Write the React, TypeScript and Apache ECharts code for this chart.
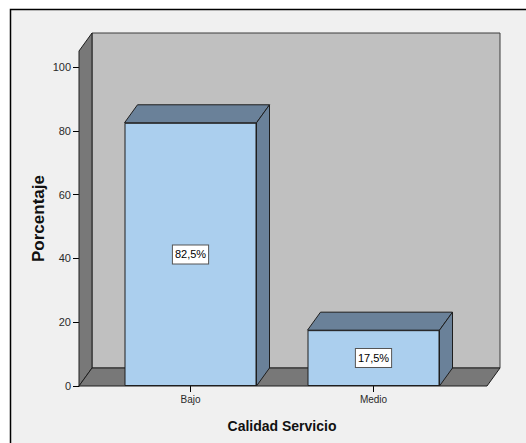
import React, { useEffect, useRef } from 'react';
import * as echarts from 'echarts';

const categories = ['Bajo', 'Medio'];
const percentages = [82.5, 17.5];
const yTickValues = [0, 20, 40, 60, 80, 100];
const axisMax = 105;

export default function App() {
  const ref = useRef<HTMLDivElement>(null);
  useEffect(() => {
    const chart = echarts.init(ref.current as HTMLDivElement, null, { renderer: 'svg' });
    const DX = 13;
    const DY = 18;
    const HALF = 66;
    const font = "'Liberation Sans', Arial, sans-serif";
    const edge = '#1e1e1e';

    const renderWalls = (params: any, api: any) => {
      const cs = params.coordSys;
      const top = api.coord([0, axisMax])[1];
      const B = api.coord([0, 0])[1];
      const L = cs.x - 20;
      const R = cs.x + cs.width + 22;
      return {
        type: 'group',
        children: [
          {
            type: 'polygon',
            shape: { points: [[L + DX, top - DY], [R + DX, top - DY], [R + DX, B - DY], [L + DX, B - DY]] },
            style: { fill: '#c0c0c0', stroke: '#3c3c3c', lineWidth: 1 },
          },
          {
            type: 'polygon',
            shape: { points: [[L, top], [L + DX, top - DY], [L + DX, B - DY], [L, B]] },
            style: { fill: '#787878', stroke: edge, lineWidth: 1 },
          },
          {
            type: 'polygon',
            shape: { points: [[L, B], [L + DX, B - DY], [R + DX, B - DY], [R, B]] },
            style: { fill: '#787878', stroke: edge, lineWidth: 1 },
          },
        ],
      };
    };

    const renderDepth = (params: any, api: any) => {
      const idx = api.value(0);
      const v = api.value(1);
      const p = api.coord([idx, v]);
      const base = api.coord([idx, 0])[1];
      const x = p[0];
      const y = p[1];
      return {
        type: 'group',
        children: [
          {
            type: 'polygon',
            shape: { points: [[x - HALF, y], [x - HALF + DX, y - DY], [x + HALF + DX, y - DY], [x + HALF, y]] },
            style: { fill: '#6a8199', stroke: edge, lineWidth: 1 },
          },
          {
            type: 'polygon',
            shape: { points: [[x + HALF, y], [x + HALF + DX, y - DY], [x + HALF + DX, base - DY], [x + HALF, base]] },
            style: { fill: '#6a8199', stroke: edge, lineWidth: 1 },
          },
        ],
      };
    };

    chart.setOption({
      animation: false,
      backgroundColor: '#ffffff',
      textStyle: { fontFamily: font },
      graphic: [
        {
          type: 'rect',
          z: -100,
          shape: { x: 10.5, y: 9.5, width: 700, height: 700 },
          style: { fill: '#f0f0f0', stroke: '#000000', lineWidth: 1.5 },
        },
      ],
      grid: { left: 99, right: 61, top: 51, bottom: 57 },
      xAxis: {
        type: 'category',
        data: categories,
        axisLine: { show: false },
        axisTick: { show: true, alignWithLabel: true, length: 6, lineStyle: { color: '#000' } },
        axisLabel: { color: '#2a2a2a', fontSize: 10, margin: 8, fontFamily: font },
        name: 'Calidad Servicio',
        nameLocation: 'middle',
        nameGap: 33,
        nameMoveOverlap: false,
        nameTextStyle: { fontWeight: 'bold', fontSize: 14, color: '#111', fontFamily: font },
        splitLine: { show: false },
      },
      yAxis: {
        type: 'value',
        min: 0,
        max: axisMax,
        offset: 20,
        axisLine: { show: true, lineStyle: { color: '#000' } },
        axisTick: { show: true, length: 6, customValues: yTickValues, lineStyle: { color: '#000' } },
        axisLabel: { customValues: yTickValues, color: '#2a2a2a', fontSize: 11, margin: 8, fontFamily: font },
        splitLine: { show: false },
        name: 'Porcentaje',
        nameLocation: 'middle',
        nameRotate: 90,
        nameGap: 32,
        nameMoveOverlap: false,
        nameTextStyle: { fontWeight: 'bold', fontSize: 17, color: '#111', fontFamily: font },
      },
      series: [
        {
          type: 'custom',
          z: 1,
          silent: true,
          data: [[0, 0]],
          renderItem: renderWalls,
        },
        {
          type: 'custom',
          z: 2,
          silent: true,
          data: percentages.map((v, i) => [i, v]),
          renderItem: renderDepth,
        },
        {
          type: 'bar',
          z: 3,
          data: percentages,
          barWidth: HALF * 2,
          itemStyle: { color: '#abcfee', borderColor: edge, borderWidth: 1 },
          label: {
            show: true,
            position: 'inside',
            formatter: (p: any) => p.value.toFixed(1).replace('.', ',') + '%',
            color: '#000',
            fontSize: 11,
            fontFamily: font,
            backgroundColor: '#ffffff',
            borderColor: '#555',
            borderWidth: 1,
            padding: [4, 2, 3, 2],
          },
        },
      ],
    });
    return () => chart.dispose();
  }, []);

  return (
    <div style={{ position: 'fixed', left: 0, top: 0, width: 526, height: 443, background: '#fff' }}>
      <div ref={ref} style={{ width: 526, height: 443 }} />
    </div>
  );
}
